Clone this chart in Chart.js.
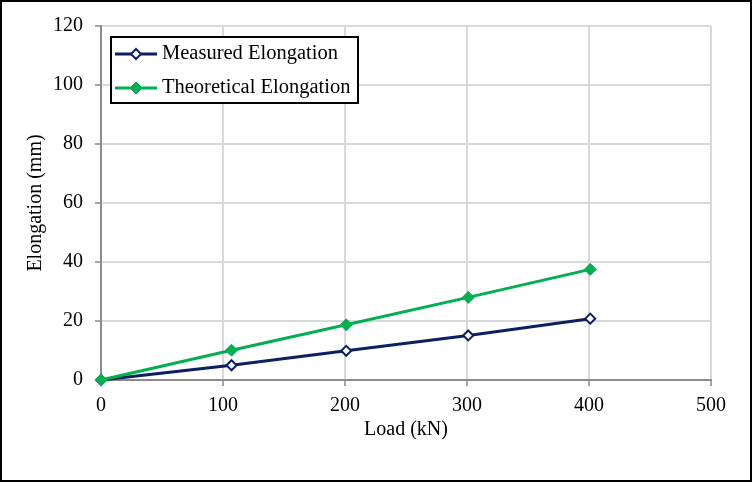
<!DOCTYPE html>
<html>
<head>
<meta charset="utf-8">
<script src="https://cdn.jsdelivr.net/npm/chart.js@4/dist/chart.umd.min.js"></script>
<style>
  html, body { margin: 0; padding: 0; background: #fff; }
  #wrap { width: 752px; height: 482px; }
</style>
</head>
<body>
<div id="wrap"><canvas id="mycanvas" width="752" height="482"></canvas></div>
<script>
// data
var loads = [0, 107, 201, 301, 401];
var measured = [0, 5.0, 9.9, 15.1, 20.8];
var theoretical = [0, 10.1, 18.7, 28.0, 37.5];
var seriesNames = ['Measured Elongation', 'Theoretical Elongation'];

var navy = '#0C1F63';
var green = '#00B050';
var fontFamily = '"Liberation Serif", "Times New Roman", serif';

function toPoints(xs, ys) {
	var pts = [];
	for (var i = 0; i < xs.length; i++) {
		pts.push({x: xs[i], y: ys[i]});
	}
	return pts;
}

// outer black frame + legend box inside the plot
var framePlugin = {
	id: 'frame',
	afterDraw: function(chart) {
		var ctx = chart.ctx;
		ctx.save();
		ctx.strokeStyle = '#000';
		ctx.lineWidth = 2;
		ctx.strokeRect(1, 1, chart.width - 2, chart.height - 2);

		// legend
		var lx = 111, ly = 37, lw = 247, lh = 66;
		ctx.fillStyle = '#fff';
		ctx.fillRect(lx, ly, lw, lh);
		ctx.strokeRect(lx, ly, lw, lh);
		ctx.font = '20.5px ' + fontFamily;
		ctx.textBaseline = 'middle';
		chart.data.datasets.forEach(function(ds, i) {
			var y = ly + 17 + i * 34;
			ctx.strokeStyle = ds.borderColor;
			ctx.lineWidth = 3;
			ctx.beginPath();
			ctx.moveTo(lx + 4, y);
			ctx.lineTo(lx + 46, y);
			ctx.stroke();
			ctx.fillStyle = ds.pointBackgroundColor;
			ctx.strokeStyle = ds.borderColor;
			ctx.lineWidth = ds.pointBorderWidth;
			ctx.beginPath();
			var r = ds.pointRadius;
			ctx.moveTo(lx + 25, y - r);
			ctx.lineTo(lx + 25 + r, y);
			ctx.lineTo(lx + 25, y + r);
			ctx.lineTo(lx + 25 - r, y);
			ctx.closePath();
			ctx.fill();
			ctx.stroke();
			ctx.fillStyle = '#000';
			ctx.fillText(ds.label, lx + 51, y);
		});
		ctx.restore();
	}
};

var ctx = document.getElementById('mycanvas');

var chart = new Chart(ctx, {
	type: 'scatter',
	data: {
		datasets: [
			{
				label: seriesNames[0],
				data: toPoints(loads, measured),
				showLine: true,
				clip: false,
				borderColor: navy,
				backgroundColor: navy,
				borderWidth: 3,
				pointStyle: 'rectRot',
				pointRadius: 5,
				pointBorderWidth: 2,
				pointBackgroundColor: '#fff',
				pointBorderColor: navy,
				order: 2
			},
			{
				label: seriesNames[1],
				data: toPoints(loads, theoretical),
				showLine: true,
				clip: false,
				borderColor: green,
				backgroundColor: green,
				borderWidth: 3,
				pointStyle: 'rectRot',
				pointRadius: 6,
				pointBorderWidth: 1,
				pointBackgroundColor: green,
				pointBorderColor: green,
				order: 1
			}
		]
	},
	options: {
		responsive: false,
		animation: false,
		layout: {
			padding: {left: 24, top: 26, right: 41, bottom: 40}
		},
		plugins: {
			legend: {display: false},
			tooltip: {enabled: false}
		},
		scales: {
			x: {
				type: 'linear',
				min: 0,
				max: 500,
				ticks: {
					stepSize: 100,
					color: '#000',
					padding: 8,
					font: {family: fontFamily, size: 20}
				},
				grid: {
					color: '#d9d9d9',
					lineWidth: 2,
					tickLength: 6,
					tickColor: '#a6a6a6'
				},
				border: {color: '#8c8c8c', width: 2},
				title: {
					display: true,
					text: 'Load (kN)',
					color: '#000',
					padding: 0,
					font: {family: fontFamily, size: 20}
				},
				afterFit: function(scale) { scale.height = 62; }
			},
			y: {
				min: 0,
				max: 120,
				ticks: {
					stepSize: 20,
					color: '#000',
					padding: 12,
					font: {family: fontFamily, size: 20}
				},
				grid: {
					color: '#d9d9d9',
					lineWidth: 2,
					tickLength: 6,
					tickColor: '#a6a6a6'
				},
				border: {color: '#8c8c8c', width: 2},
				title: {
					display: true,
					text: 'Elongation (mm)',
					color: '#000',
					padding: 0,
					font: {family: fontFamily, size: 20}
				},
				afterFit: function(scale) { scale.width = 77; }
			}
		}
	},
	plugins: [framePlugin]
});
</script>
</body>
</html>
